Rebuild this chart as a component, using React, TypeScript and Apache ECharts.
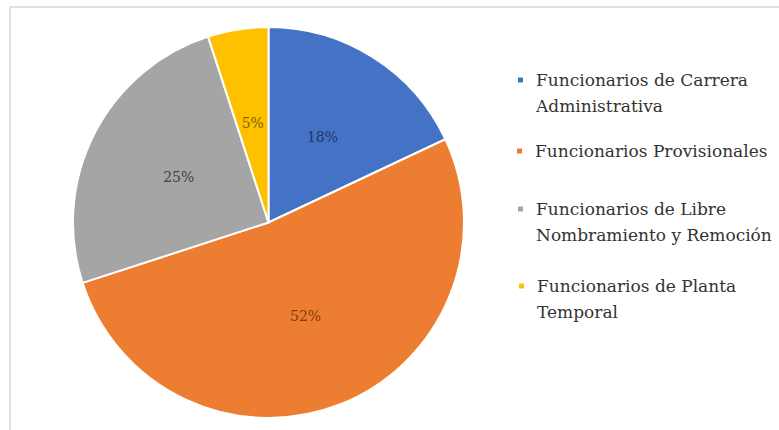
import React, { useEffect, useRef } from "react";
import * as echarts from "echarts";

const categories = [
  "Funcionarios de Carrera Administrativa",
  "Funcionarios Provisionales",
  "Funcionarios de Libre Nombramiento y Remoción",
  "Funcionarios de Planta Temporal",
];
const legendLines = [
  ["Funcionarios de Carrera", "Administrativa"],
  ["Funcionarios Provisionales"],
  ["Funcionarios de Libre", "Nombramiento y Remoción"],
  ["Funcionarios de Planta", "Temporal"],
];
const values = [18, 52, 25, 5];
const colors = ["#4472C4", "#ED7D31", "#A5A5A5", "#FFC000"];
const labelColors = ["#1F3864", "#843C0C", "#404040", "#7F6000"];

const legendTops = [41, 138, 170, 247];
const legendLefts = [516, 515, 516, 517];

export default function App() {
  const ref = useRef<HTMLDivElement>(null);
  useEffect(() => {
    document.body.style.margin = "0";
    if (!ref.current) return;
    const chart = echarts.init(ref.current, undefined, { renderer: "svg" });
    const font = "DejaVu Serif";
    const legends = categories.map((name, i) => {
      const lines = legendLines[i];
      return {
        data: [name],
        orient: "vertical",
        left: legendLefts[i],
        top: legendTops[i],
        padding: 0,
        icon: "rect",
        itemWidth: 7,
        itemHeight: 7,
        selectedMode: false,
        formatter: () => (lines.length > 1 ? "\n" + lines.join("\n") : lines[0]),
        textStyle: {
          fontFamily: font,
          fontSize: 17,
          lineHeight: 26,
          color: "#333333",
          padding: [0, 0, 0, 7],
        },
      };
    });
    chart.setOption({
      animation: false,
      backgroundColor: "#ffffff",
      graphic: [
        {
          type: "rect",
          shape: { x: 10, y: 7, width: 820, height: 460 },
          style: { fill: "none", stroke: "#d6d6d6", lineWidth: 1.5 },
          silent: true,
        },
      ],
      legend: legends,
      series: [
        {
          type: "pie",
          center: [268.5, 222.5],
          radius: 195.5,
          startAngle: 90,
          clockwise: true,
          avoidLabelOverlap: false,
          itemStyle: { borderColor: "#ffffff", borderWidth: 2 },
          label: {
            show: true,
            position: "inside",
            formatter: "{d}%",
            fontFamily: font,
            fontSize: 14,
          },
          labelLine: { show: false },
          emphasis: { disabled: true },
          data: categories.map((name, i) => ({
            name,
            value: values[i],
            itemStyle: { color: colors[i] },
            label: { color: labelColors[i] },
          })),
        },
      ],
    });
    return () => chart.dispose();
  }, []);
  return <div ref={ref} style={{ width: 779, height: 430 }} />;
}
